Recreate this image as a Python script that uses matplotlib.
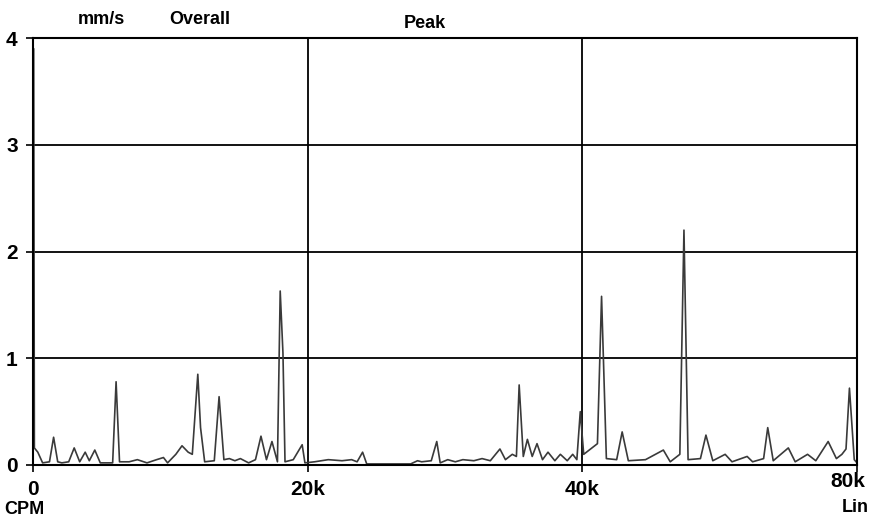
import matplotlib.pyplot as plt
from matplotlib.transforms import ScaledTranslation

# spectrum trace, frequency in k CPM (as drawn on the plot), amplitude in mm/s
freq_k = [0.0, 0.05, 0.1, 0.35, 0.7, 1.2, 1.5, 1.8, 2.1, 2.6, 3.0, 3.4, 3.8, 4.1, 4.5,
          4.9, 5.8, 6.05, 6.3, 7.0, 7.6, 8.3, 9.0, 9.5, 9.8, 10.4, 10.85, 11.3, 11.6,
          12.0, 12.2, 12.5, 13.2, 13.55, 13.9, 14.3, 14.7, 15.1, 15.7, 16.2, 16.6,
          17.0, 17.4, 17.8, 18.0, 18.2, 18.35, 18.95, 19.6, 19.8, 20.5, 21.5, 22.5,
          23.2, 23.6, 24.0, 24.3, 25.5, 26.5, 27.5, 28.0, 28.3, 29.0, 29.4, 29.65,
          30.2, 30.75, 31.3, 32.1, 32.7, 33.3, 34.0, 34.4, 34.9, 35.2, 35.4, 35.7,
          36.0, 36.35, 36.7, 37.1, 37.5, 38.0, 38.4, 38.9, 39.3, 39.6, 39.85, 40.1,
          40.6, 41.1, 41.4, 41.75, 42.5, 42.9, 43.35, 44.6, 45.9, 46.4, 47.1, 47.4,
          47.7, 48.6, 49.0, 49.5, 50.4, 50.9, 52.0, 52.4, 53.2, 53.5, 53.9, 55.0,
          55.5, 56.4, 57.0, 57.9, 58.5, 58.9, 59.2, 59.45, 59.8, 60.0]
amp = [3.9, 3.9, 0.16, 0.12, 0.02, 0.03, 0.26, 0.03, 0.02, 0.03, 0.16, 0.03, 0.12, 0.04, 0.14,
       0.02, 0.02, 0.78, 0.03, 0.03, 0.05, 0.02, 0.05, 0.07, 0.02, 0.1, 0.18, 0.12, 0.1,
       0.85, 0.35, 0.03, 0.04, 0.64, 0.05, 0.06, 0.04, 0.06, 0.02, 0.05, 0.27,
       0.05, 0.22, 0.03, 1.63, 1.05, 0.03, 0.05, 0.19, 0.02, 0.03, 0.05, 0.04,
       0.05, 0.03, 0.12, 0.01, 0.01, 0.01, 0.01, 0.04, 0.03, 0.04, 0.22, 0.02,
       0.05, 0.03, 0.05, 0.04, 0.06, 0.04, 0.15, 0.05, 0.1, 0.08, 0.75, 0.08,
       0.24, 0.08, 0.2, 0.05, 0.12, 0.04, 0.1, 0.04, 0.1, 0.05, 0.5, 0.1,
       0.15, 0.2, 1.58, 0.06, 0.05, 0.31, 0.04, 0.05, 0.14, 0.03, 0.1, 2.2,
       0.05, 0.06, 0.28, 0.04, 0.1, 0.03, 0.08, 0.03, 0.06, 0.35, 0.04, 0.16,
       0.03, 0.1, 0.04, 0.22, 0.06, 0.1, 0.15, 0.72, 0.05, 0.02]

x_ticks = [0, 20, 40, 60]
x_labels = ["0", "20k", "40k", "80k"]
y_ticks = [0, 1, 2, 3, 4]

plt.rcParams['font.family'] = ['Liberation Sans', 'DejaVu Sans']
plt.rcParams['font.weight'] = 'bold'

fig = plt.figure(figsize=(8.75, 5.18), dpi=100)
ax = fig.add_axes([33 / 875, 53 / 518, 824 / 875, 427 / 518])

ax.plot(freq_k, amp, color="#3a3a3a", lw=1.2)

ax.set_xlim(0, 60)
ax.set_ylim(0, 4)
ax.set_xticks(x_ticks)
ax.set_xticklabels(x_labels)
ax.set_yticks(y_ticks)
ax.grid(True, color="black", lw=1.3)
for s in ax.spines.values():
    s.set_linewidth(1.5)
ax.tick_params(axis="both", direction="out", length=5, width=1.2, labelsize=15, pad=6)
for lbl in ax.get_xticklabels() + ax.get_yticklabels():
    lbl.set_fontweight("bold")
# the right-hand label sits a little higher and left in the original
last = ax.get_xticklabels()[-1]
last.set_transform(last.get_transform() + ScaledTranslation(-0.09, 0.08, fig.dpi_scale_trans))

fig.text(101 / 875, 1 - 20 / 518, "mm/s", ha="center", va="center", fontsize=13, fontweight="bold")
fig.text(200 / 875, 1 - 20 / 518, "Overall", ha="center", va="center", fontsize=13, fontweight="bold")
fig.text(425 / 875, 1 - 23 / 518, "Peak", ha="center", va="center", fontsize=13, fontweight="bold")
fig.text(24 / 875, 1 - 510 / 518, "CPM", ha="center", va="center", fontsize=13, fontweight="bold")
fig.text(855 / 875, 1 - 507 / 518, "Lin", ha="center", va="center", fontsize=13, fontweight="bold")

fig.savefig("out.png", dpi=100)
